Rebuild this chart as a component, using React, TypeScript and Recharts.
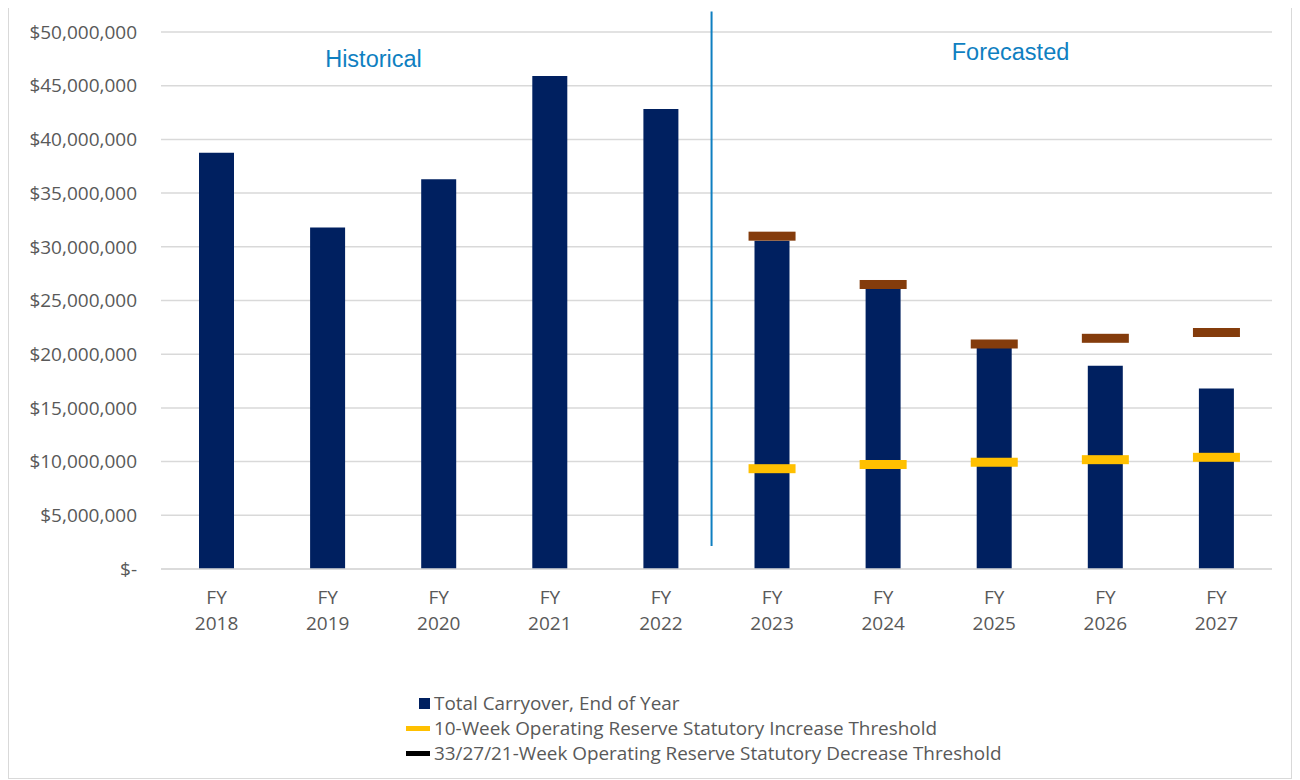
import React from "react";
import {
  ComposedChart,
  Bar,
  Scatter,
  XAxis,
  YAxis,
  CartesianGrid,
  ReferenceLine,
} from "recharts";

const years = ["2018", "2019", "2020", "2021", "2022", "2023", "2024", "2025", "2026", "2027"];
const carryover = [38760000, 31800000, 36300000, 45900000, 42830000, 30570000, 26070000, 20640000, 18930000, 16800000];
const increaseThreshold = [null, null, null, null, null, 9340000, 9730000, 9940000, 10180000, 10400000];
const decreaseThreshold = [null, null, null, null, null, 30990000, 26490000, 20950000, 21480000, 22020000];
const yTicks = [0, 5000000, 10000000, 15000000, 20000000, 25000000, 30000000, 35000000, 40000000, 45000000, 50000000];

const seriesNames = [
  "Total Carryover, End of Year",
  "10-Week Operating Reserve Statutory Increase Threshold",
  "33/27/21-Week Operating Reserve Statutory Decrease Threshold",
];

const data = years.map((y, i) => ({
  year: y,
  carryover: carryover[i],
  inc: increaseThreshold[i],
  dec: decreaseThreshold[i],
}));

const NAVY = "#002060";
const GOLD = "#FFC000";
const BROWN = "#843C0C";
const BLUE = "#0F7FC1";
const TEXT = "#595959";
const FONT = "'Open Sans', sans-serif";

const fmtMoney = (v: number) => (v === 0 ? "$-" : "$" + v.toLocaleString("en-US"));

const YearTick = (props: any) => {
  const { x, y, payload } = props;
  return (
    <text x={x} y={y} textAnchor="middle" fill={TEXT} fontSize={19} fontFamily={FONT}>
      <tspan x={x} dy={35}>FY</tspan>
      <tspan x={x} dy={26}>{payload.value}</tspan>
    </text>
  );
};

const marker = (color: string) => (p: any) => {
  if (p.cy == null || isNaN(p.cy) || p.payload == null) return <g />;
  return <rect x={p.cx - 23.5} y={p.cy - 4.5} width={47} height={9} fill={color} />;
};

export default function App() {
  return (
    <div
      style={{
        position: "relative",
        width: 1282,
        height: 771,
        marginTop: -2,
        border: "1px solid #d9d9d9",
        background: "#fff",
      }}
    >
      <ComposedChart
        width={1282}
        height={771}
        data={data}
        margin={{ top: 25, right: 19, bottom: 129, left: 12 }}
      >
        <CartesianGrid vertical={false} stroke="#d9d9d9" strokeWidth={1.5} />
        <XAxis
          dataKey="year"
          height={80}
          tickLine={false}
          tickSize={0}
          tickMargin={0}
          axisLine={{ stroke: "#d9d9d9", strokeWidth: 1.5 }}
          tick={<YearTick />}
          interval={0}
        />
        {/* hidden index axis (0..9 across the plot) used to place the divider */}
        <XAxis xAxisId="div" type="number" hide />
        <YAxis
          width={140}
          domain={[0, 50000000]}
          ticks={yTicks}
          tickFormatter={fmtMoney}
          axisLine={false}
          tickLine={false}
          tickSize={0}
          tickMargin={24}
          tick={{ fill: TEXT, fontSize: 19, fontFamily: FONT }}
        />
        <Bar dataKey="carryover" fill={NAVY} barSize={35} isAnimationActive={false} />
        <Scatter dataKey="inc" shape={marker(GOLD)} isAnimationActive={false} />
        <Scatter dataKey="dec" shape={marker(BROWN)} isAnimationActive={false} />
        <ReferenceLine
          xAxisId="div"
          segment={[
            { x: 4.46, y: 51900000 },
            { x: 4.46, y: 2150000 },
          ]}
          stroke={BLUE}
          strokeWidth={2}
          ifOverflow="visible"
        />
      </ComposedChart>

      <div style={{ position: "absolute", left: 0, top: 0, width: 1282, pointerEvents: "none" }}>
        <div
          style={{
            position: "absolute",
            left: 373.5 - 9 - 70,
            width: 140,
            top: 39,
            textAlign: "center",
            color: BLUE,
            fontFamily: "'Liberation Sans', Arial, sans-serif",
            fontSize: 23.5,
          }}
        >
          Historical
        </div>
        <div
          style={{
            position: "absolute",
            left: 1010.5 - 9 - 80,
            width: 160,
            top: 32,
            textAlign: "center",
            color: BLUE,
            fontFamily: "'Liberation Sans', Arial, sans-serif",
            fontSize: 23.5,
          }}
        >
          Forecasted
        </div>
      </div>

      <div
        style={{
          position: "absolute",
          left: 406 - 9,
          top: 691 - 7,
          fontFamily: FONT,
          fontSize: 18.9,
          color: TEXT,
          lineHeight: "25px",
        }}
      >
        {seriesNames.map((name, i) => (
          <div key={name} style={{ display: "flex", alignItems: "center", height: 25 }}>
            <span style={{ width: 28, display: "flex", alignItems: "center", justifyContent: "flex-end" }}>
              {i === 0 ? (
                <span style={{ width: 11, height: 11, background: NAVY, display: "inline-block", marginRight: 4 }} />
              ) : (
                <span
                  style={{
                    width: 24,
                    height: 5,
                    background: i === 1 ? GOLD : "#000",
                    display: "inline-block",
                    marginRight: 4,
                  }}
                />
              )}
            </span>
            <span style={{ whiteSpace: "nowrap" }}>{name}</span>
          </div>
        ))}
      </div>
    </div>
  );
}
